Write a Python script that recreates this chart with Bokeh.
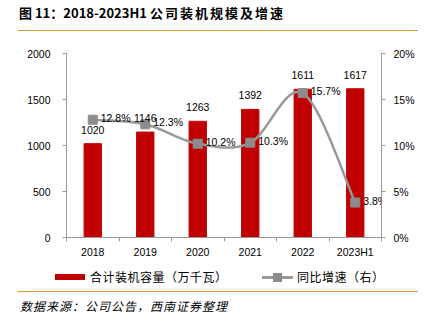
from bokeh.plotting import figure
from bokeh.layouts import column
from bokeh.models import (Range1d, LinearAxis, FixedTicker, PrintfTickFormatter, Div,
                          ColumnDataSource, LabelSet)
from bokeh.core.properties import value
from bokeh.embed import file_html
from bokeh.resources import INLINE

years = ["2018", "2019", "2020", "2021", "2022", "2023H1"]
capacity = [1020, 1146, 1263, 1392, 1611, 1617]
growth = [12.8, 12.3, 10.2, 10.3, 15.7, 3.8]
left_ticks = [0, 500, 1000, 1500, 2000]
right_ticks = [0, 5, 10, 15, 20]
title_head = "图 11：2018-2023H1"
title_tail = "公司装机规模及增速"
bar_name = "合计装机容量（万千瓦）"
line_name = "同比增速（右）"
source_text = "数据来源：公司公告，西南证券整理"

NUM_FONT = "Liberation Sans"
CJK_FONT = "Noto Sans CJK SC"
RULE = "#d99a45"
BAR = "#c00000"
LINE = "#999999"
MARK = "#8c8c8c"
AX = "#9a9a9a"
W = 431

# ---- title block (0..31 px) ----
title_div = Div(
    width=W, height=31, margin=0,
    text=(f'<div style="margin-left:18px;width:400px;height:31px;box-sizing:border-box;'
          f'border-bottom:1.5px solid {RULE};font-family:\'{CJK_FONT}\';font-weight:bold;'
          f'font-size:13px;line-height:26px;color:#000;padding-left:1px;white-space:nowrap">'
          f'{title_head} <span style="letter-spacing:2px">{title_tail}</span></div>'))

# ---- main chart (31..262 px) ----
p = figure(width=W, height=231, output_backend="svg", toolbar_location=None,
           x_range=Range1d(0, len(years)), y_range=Range1d(0, 2000),
           min_border_left=66, min_border_right=50, min_border_top=22,
           min_border_bottom=25, outline_line_color=None, margin=0,
           background_fill_color="white", border_fill_color="white")
p.extra_y_ranges = {"pct": Range1d(0, 20)}
p.grid.visible = False

xs = [i + 0.5 for i in range(len(years))]

xa = p.xaxis[0]
xa.ticker = FixedTicker(ticks=xs, minor_ticks=list(range(len(years) + 1)))
xa.major_label_overrides = {x: y for x, y in zip(xs, years)}
xa.major_tick_line_color = None
xa.major_tick_out = 0
xa.major_tick_in = 0
xa.minor_tick_line_color = AX
xa.minor_tick_out = 4
xa.minor_tick_in = 0
xa.axis_line_color = AX
xa.major_label_standoff = 4
xa.major_label_text_font = NUM_FONT
xa.major_label_text_font_size = "10.5px"
xa.major_label_text_color = "#000000"

ya = p.yaxis[0]
ya.ticker = FixedTicker(ticks=left_ticks)
ya.axis_line_color = AX
ya.major_tick_line_color = AX
ya.major_tick_out = 4
ya.major_tick_in = 0
ya.minor_tick_line_color = None
ya.major_label_standoff = 12
ya.major_label_text_font = NUM_FONT
ya.major_label_text_font_size = "10.5px"
ya.major_label_text_color = "#000000"

ra = LinearAxis(y_range_name="pct", ticker=FixedTicker(ticks=right_ticks),
                formatter=PrintfTickFormatter(format="%d%%"))
ra.axis_line_color = AX
ra.major_tick_line_color = AX
ra.major_tick_out = 4
ra.major_tick_in = 0
ra.minor_tick_line_color = None
ra.major_label_standoff = 8
ra.major_label_text_font = NUM_FONT
ra.major_label_text_font_size = "10.5px"
ra.major_label_text_color = "#000000"
p.add_layout(ra, "right")

bar_src = ColumnDataSource(dict(x=xs, top=capacity, lbl=[str(v) for v in capacity]))
p.vbar(x="x", top="top", width=0.33, source=bar_src, fill_color=BAR, line_color=BAR)
p.add_layout(LabelSet(x="x", y="top", text="lbl", source=bar_src, y_offset=10,
                      text_align="center", text_baseline="alphabetic",
                      text_font=value(NUM_FONT), text_font_size="10.5px",
                      text_color="#000000"))

# smooth line through the data points (cubic Bezier, Catmull-Rom tangents)
def smooth(xp, yp, n=24):
    cx, cy = [], []
    m = len(xp)
    for i in range(m - 1):
        x0, y0 = (xp[i - 1], yp[i - 1]) if i > 0 else (xp[i], yp[i])
        x1, y1 = xp[i], yp[i]
        x2, y2 = xp[i + 1], yp[i + 1]
        x3, y3 = (xp[i + 2], yp[i + 2]) if i + 2 < m else (xp[i + 1], yp[i + 1])
        c1x, c1y = x1 + (x2 - x0) / 6, y1 + (y2 - y0) / 6
        c2x, c2y = x2 - (x3 - x1) / 6, y2 - (y3 - y1) / 6
        for k in range(n + (1 if i == m - 2 else 0)):
            t = k / n
            a, b, c, d = (1 - t) ** 3, 3 * (1 - t) ** 2 * t, 3 * (1 - t) * t ** 2, t ** 3
            cx.append(a * x1 + b * c1x + c * c2x + d * x2)
            cy.append(a * y1 + b * c1y + c * c2y + d * y2)
    return cx, cy

cx, cy = smooth(xs, growth)
p.line(cx, cy, y_range_name="pct", line_color=LINE, line_width=2.5)
pct_src = ColumnDataSource(dict(x=xs, y=growth, lbl=[f"{v}%" for v in growth]))
p.scatter(x="x", y="y", source=pct_src, y_range_name="pct", marker="square",
          size=9, fill_color=MARK, line_color=MARK)
p.add_layout(LabelSet(x="x", y="y", text="lbl", source=pct_src, y_range_name="pct",
                      x_offset=8, y_offset=2, text_align="left", text_baseline="middle",
                      text_font=value(NUM_FONT), text_font_size="10.5px",
                      text_color="#000000"))

# ---- legend strip (262..291 px) ----
txt = (f"position:absolute;top:0;height:29px;line-height:29px;font-family:'{CJK_FONT}';"
       f"font-size:12px;letter-spacing:0.5px;color:#000;white-space:nowrap;")
legend_div = Div(
    width=W, height=29, margin=0,
    text=(f'<div style="position:relative;width:{W}px;height:29px;">'
          f'<div style="position:absolute;left:55px;top:12px;width:30px;height:6px;background:{BAR}"></div>'
          f'<div style="{txt}left:90px">{bar_name}</div>'
          f'<div style="position:absolute;left:262px;top:14px;width:31px;height:2.5px;background:{LINE}"></div>'
          f'<div style="position:absolute;left:273px;top:11px;width:9px;height:9px;background:{MARK}"></div>'
          f'<div style="{txt}left:297px">{line_name}</div>'
          f'</div>'))

# ---- source block (291..321 px) ----
source_div = Div(
    width=W, height=30, margin=0,
    text=(f'<div style="margin-left:18px;width:400px;height:30px;box-sizing:border-box;'
          f'border-top:1.5px solid {RULE};font-family:\'{CJK_FONT}\';font-style:italic;'
          f'font-size:12px;letter-spacing:1px;line-height:27px;color:#000;padding-left:2px;'
          f'white-space:nowrap">{source_text}</div>'))

layout = column(title_div, p, legend_div, source_div, spacing=0)
open("out.html", "w").write(file_html(layout, INLINE))
